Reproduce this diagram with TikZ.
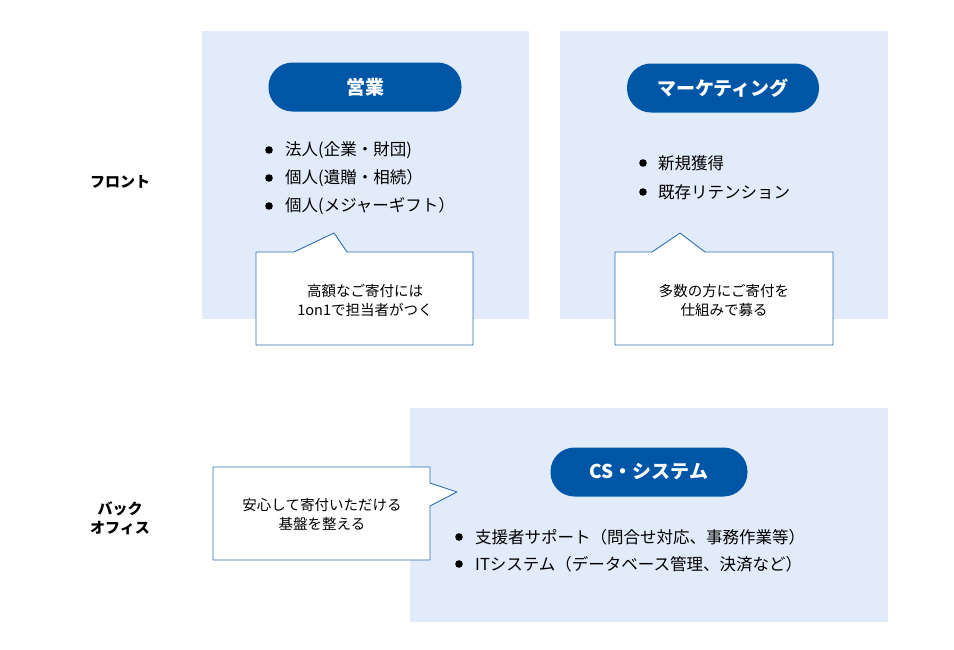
\documentclass[tikz,border=0pt]{standalone}
\usepackage{fontspec}
\setmainfont{Noto Sans CJK JP}
\definecolor{panelbg}{RGB}{226,235,250}
\definecolor{pillblue}{RGB}{0,86,166}
\definecolor{balloonline}{RGB}{46,110,180}
\begin{document}
\begin{tikzpicture}[x=1pt,y=-1pt,line join=round,line cap=round]
	\tikzset{pill/.style={fill=pillblue,text=white,rounded corners=24pt,minimum height=49pt,inner sep=0pt,font=\fontsize{19}{21}\selectfont\bfseries},
		item/.style={anchor=west,inner sep=0pt,font=\fontsize{16.5}{18}\selectfont},
		note/.style={align=center,inner sep=0pt,font=\fontsize{14.5}{19}\selectfont},
		balloon/.style={fill=white,draw=balloonline,line width=0.9pt},
		rowlabel/.style={align=center,inner sep=0pt,font=\fontsize{15}{19}\selectfont\bfseries}}
	\useasboundingbox (0,0) rectangle (954,649);
	% panels
	\fill[panelbg] (202,31) rectangle (529,319);
	\fill[panelbg] (560,31) rectangle (888,319);
	\fill[panelbg] (410,408) rectangle (888,622);
	% row labels
	\node[rowlabel] (front) at (120,182) {フロント};
	\node[rowlabel] (back) at (120,518) {バック\\オフィス};
	% headers
	\node[pill,minimum width=193pt] (sales) at (365,87) {営業};
	\node[pill,minimum width=192pt] (mkt) at (723,88) {マーケティング};
	\node[pill,minimum width=197pt] (cs) at (649,472) {CS・システム};
	% bullets
	\foreach \y/\t [count=\i] in {150/法人(企業・財団), 178/個人(遺贈・相続）, 206/個人(メジャーギフト）}{
		\fill (269,\y) circle (3.8pt);
		\node[item] (sales\i) at (285,\y) {\t};
	}
	\foreach \y/\t [count=\i] in {163/新規獲得, 192/既存リテンション}{
		\fill (643,\y) circle (3.8pt);
		\node[item] (mkt\i) at (658,\y) {\t};
	}
	\foreach \y/\t [count=\i] in {537/支援者サポート（問合せ対応、事務作業等）, 564/ITシステム（データベース管理、決済など）}{
		\fill (459,\y) circle (3.8pt);
		\node[item] (cs\i) at (475,\y) {\t};
	}
	% balloons
	\draw[balloon] (256,252)--(294,252)--(334,233)--(347,252)--(473,252)--(473,345)--(256,345)--cycle;
	\node[note] (salesnote) at (365,300) {高額なご寄付には\\1on1で担当者がつく};
	\draw[balloon] (615,252)--(652,252)--(680,233)--(705,252)--(833,252)--(833,345)--(615,345)--cycle;
	\node[note] (mktnote) at (724,300) {多数の方にご寄付を\\仕組みで募る};
	\draw[balloon] (213,467)--(430,467)--(430,483)--(457,492)--(430,506)--(430,560)--(213,560)--cycle;
	\node[note] (csnote) at (322,514) {安心して寄付いただける\\基盤を整える};
\end{tikzpicture}
\end{document}
